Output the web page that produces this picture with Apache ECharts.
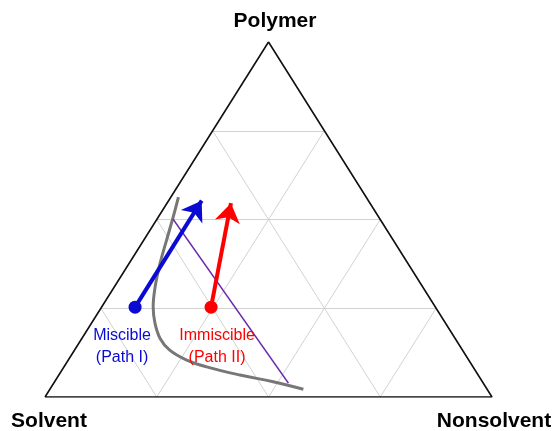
<!DOCTYPE html>
<html>
<head>
<meta charset="utf-8">
<script src="https://cdn.jsdelivr.net/npm/echarts@6/dist/echarts.min.js"></script>
<style>
  html, body { margin: 0; padding: 0; background: #fff; }
  #chart { width: 553px; height: 431px; }
</style>
</head>
<body>
<div id="chart"></div>
<script>
// Ternary composition in percent, given as [polymer, nonsolvent]; solvent is the remainder.
const cornerNames = ['Polymer', 'Solvent', 'Nonsolvent'];
const gridFractions = [25, 50, 75];

// Binodal curve
const binodal = [
  [56.3, 1.7], [50.8, 3.3], [44.2, 5.1], [37.7, 6.9], [31.1, 9.1],
  [25.4, 11.5], [20.8, 14.2], [16.5, 17.5], [13.2, 21.3], [10.4, 26.5],
  [8.5, 31.9], [6.2, 40.5], [4.3, 48.9], [2.2, 56.7]
];
// Tie line
const tieLine = [[50.1, 3.6], [3.9, 52.5]];

// Composition paths: start point and end point
const pathNames = ['Miscible\n(Path I)', 'Immiscible\n(Path II)'];
const pathColors = ['#0a0ad2', '#ff0000'];
const pathStart = [[25.3, 7.5], [25.3, 24.5]];
const pathEnd = [[55.3, 7.4], [54.6, 14.3]];

// polymer/nonsolvent percentages -> cartesian position in the unit frame
function toXY(p) {
  const polymer = p[0], nonsolvent = p[1];
  return [(nonsolvent + polymer / 2) / 100, polymer / 100];
}

// Triangle grid lines at constant polymer, nonsolvent and solvent fractions
const gridLines = [];
gridFractions.forEach(function (k) {
  gridLines.push({ coords: [toXY([k, 0]), toXY([k, 100 - k])] });          // constant polymer
  gridLines.push({ coords: [toXY([0, k]), toXY([100 - k, k])] });          // constant nonsolvent
  gridLines.push({ coords: [toXY([0, 100 - k]), toXY([100 - k, 0])] });    // constant solvent
});

const outline = [[0, 0], [0, 100], [100, 0], [0, 0]].map(toXY);

const fontFamily = '"Liberation Sans", Arial, sans-serif';

const chart = echarts.init(document.getElementById('chart'), null, { renderer: 'canvas' });
chart.setOption({
  animation: false,
  backgroundColor: '#ffffff',
  grid: { left: 45, right: 61, top: 42, bottom: 34 },
  xAxis: { type: 'value', min: 0, max: 1, show: false },
  yAxis: { type: 'value', min: 0, max: 1, show: false },
  graphic: [
    { type: 'text', x: 275, y: 21, style: { text: cornerNames[0], fill: '#000', font: 'bold 21px ' + fontFamily, textAlign: 'center', textVerticalAlign: 'middle' } },
    { type: 'text', x: 49, y: 421, style: { text: cornerNames[1], fill: '#000', font: 'bold 21px ' + fontFamily, textAlign: 'center', textVerticalAlign: 'middle' } },
    { type: 'text', x: 494, y: 421, style: { text: cornerNames[2], fill: '#000', font: 'bold 21px ' + fontFamily, textAlign: 'center', textVerticalAlign: 'middle' } }
  ],
  series: [
    {
      type: 'lines',
      coordinateSystem: 'cartesian2d',
      silent: true,
      z: 1,
      lineStyle: { color: '#d2d2d2', width: 1, opacity: 1 },
      data: gridLines
    },
    {
      type: 'line',
      silent: true,
      z: 2,
      symbol: 'none',
      lineStyle: { color: '#111', width: 1.6 },
      data: outline
    },
    {
      type: 'line',
      silent: true,
      z: 3,
      symbol: 'none',
      smooth: 0.4,
      lineStyle: { color: '#777777', width: 3 },
      data: binodal.map(toXY)
    },
    {
      type: 'line',
      silent: true,
      z: 3,
      symbol: 'none',
      lineStyle: { color: '#6a2aa8', width: 1.6 },
      data: tieLine.map(toXY)
    },
    {
      type: 'lines',
      coordinateSystem: 'cartesian2d',
      silent: true,
      z: 4,
      symbol: ['none', 'arrow'],
      symbolSize: [17, 19],
      data: pathStart.map(function (s, i) {
        return {
          coords: [toXY(s), toXY(pathEnd[i])],
          lineStyle: { color: pathColors[i], width: 4, opacity: 1 }
        };
      })
    },
    {
      type: 'scatter',
      silent: true,
      z: 5,
      symbolSize: 13,
      itemStyle: { opacity: 1 },
      data: pathStart.map(function (s, i) {
        return {
          value: toXY(s),
          itemStyle: { color: pathColors[i], opacity: 1 },
          label: {
            show: true,
            position: 'bottom',
            distance: 11,
            offset: [i === 0 ? -13 : 6, 0],
            formatter: pathNames[i],
            color: pathColors[i],
            opacity: 1,
            fontFamily: fontFamily,
            fontSize: 16,
            lineHeight: 22,
            align: 'center'
          }
        };
      })
    }
  ]
});
</script>
</body>
</html>
